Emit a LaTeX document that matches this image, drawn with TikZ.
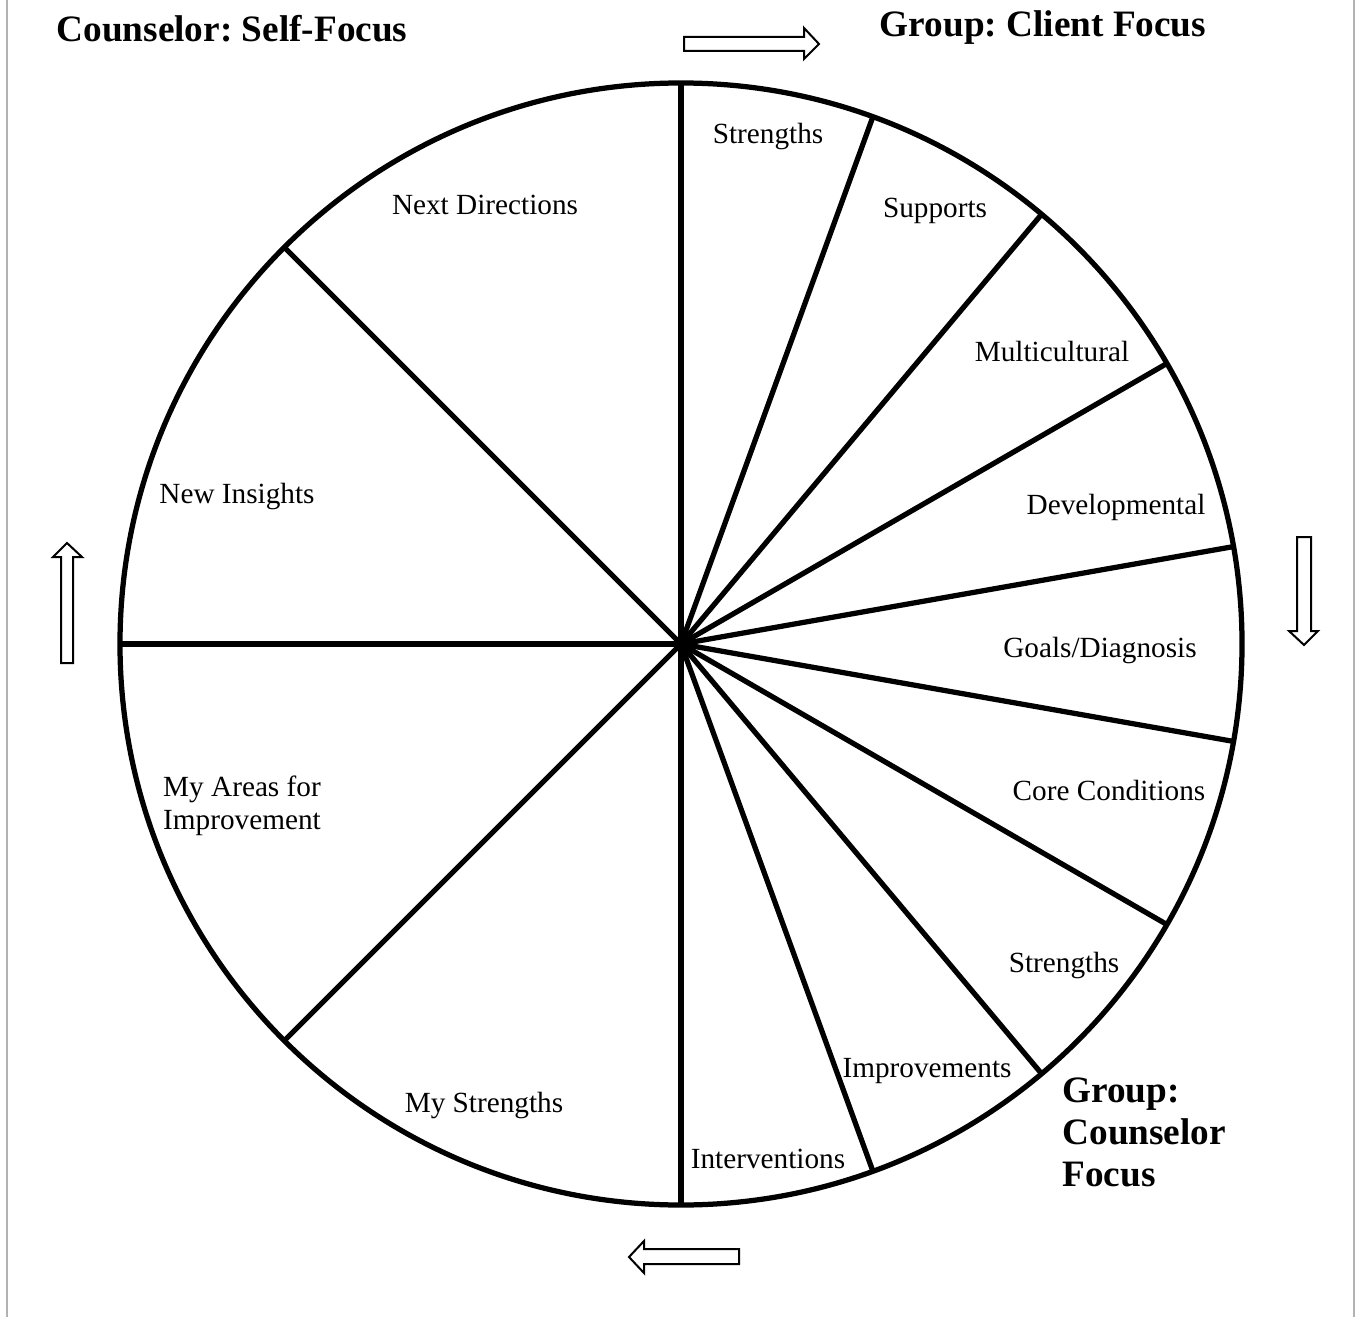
\documentclass[tikz,border=0pt]{standalone}
\usepackage{fontspec}
\setmainfont{Liberation Serif}
\begin{document}
\frenchspacing
\begin{tikzpicture}[x=0.4pt,y=-0.4pt,
  wheel/.style={line width=2.1pt,black},
  blockarrow/.style={draw=black,fill=white,line width=0.8pt,line join=miter},
  frameline/.style={draw={rgb,255:red,178;green,178;blue,178},line width=0.9pt},
  lbl/.style={inner sep=0pt,yshift=-1.2pt,font=\fontsize{11.7}{13.2}\selectfont},
  head/.style={inner sep=0pt,font=\fontsize{14.9}{16.8}\selectfont\bfseries}]
\useasboundingbox (0,0) rectangle (1357,1317);
\draw[frameline] (7,0) -- (7,1317);
\draw[frameline] (1354,0) -- (1354,1317);
% wheel
\coordinate (c) at (681,644);
\draw[wheel] (c) circle [radius=224.4pt];
\foreach \a in {90,70,50,30,10,-10,-30,-50,-70,-90,135,180,225}{
  \draw[wheel] (c) -- ++(-\a:561);
}
% labels
\node[lbl] (s1) at (768,134) {Strengths};
\node[lbl] (sup) at (935,208) {Supports};
\node[lbl] (mul) at (1052,348) {Multicultural};
\node[lbl] (dev) at (1116,504) {Developmental};
\node[lbl] (goa) at (1100,648) {Goals/Diagnosis};
\node[lbl] (cor) at (1109,787) {Core Conditions};
\node[lbl] (s2) at (1064,962) {Strengths};
\node[lbl] (imp) at (927,1068) {Improvements};
\node[lbl] (int) at (768,1156) {Interventions};
\node[lbl] (mys) at (484,1102) {My Strengths};
\node[lbl,align=left] (mya) at (242,803) {My Areas for\\Improvement};
\node[lbl] (ins) at (237,494) {New Insights};
\node[lbl] (nxt) at (485,202) {Next Directions};
% headings
\node[head] (h1) at (232,29) {Counselor: Self-Focus};
\node[head] (h2) at (1043,28) {Group: Client Focus};
\node[head,align=left,anchor=north west] (h3) at (1062,1077) {Group:\\Counselor\\Focus};
% block arrows
\draw[blockarrow] (684,37) -- (804,37) -- (804,28) -- (819,44) -- (804,59) -- (804,51) -- (684,51) -- cycle;
\draw[blockarrow] (1297,537) -- (1311,537) -- (1311,631) -- (1318,631) -- (1304,645) -- (1289,631) -- (1297,631) -- cycle;
\draw[blockarrow] (739,1249) -- (644,1249) -- (644,1241) -- (629,1257) -- (644,1273) -- (644,1264) -- (739,1264) -- cycle;
\draw[blockarrow] (61,663) -- (61,557) -- (53,557) -- (67,543) -- (82,557) -- (73,557) -- (73,663) -- cycle;
\end{tikzpicture}
\end{document}
